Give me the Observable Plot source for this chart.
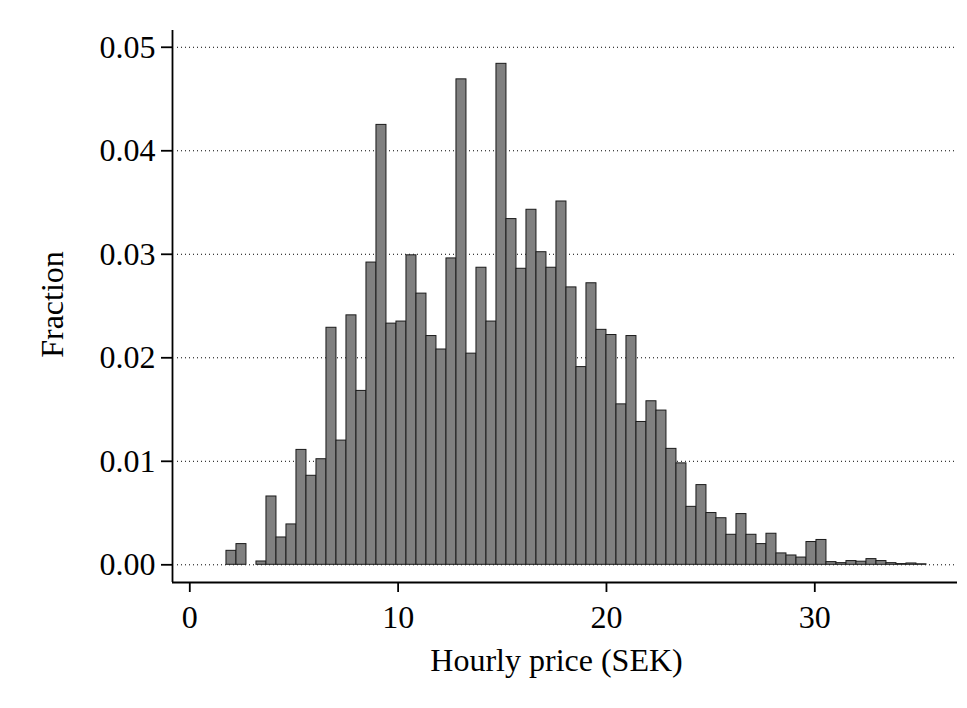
<!DOCTYPE html>
<html><head><meta charset="utf-8">
<script src="https://cdn.jsdelivr.net/npm/d3@7"></script>
<script src="https://cdn.jsdelivr.net/npm/@observablehq/plot@0.6"></script>
<style>body{margin:0;background:#fff}</style>
</head><body><div id="chart"></div>
<script>
// Histogram bins (lower edge of each bin, SEK) and fractions
const binLower = [1.76,2.24,2.72,3.20,3.68,4.16,4.64,5.12,5.60,6.08,
  6.56,7.04,7.52,8.00,8.48,8.96,9.44,9.92,10.40,10.88,
  11.36,11.84,12.32,12.80,13.28,13.76,14.24,14.72,15.20,15.68,
  16.16,16.64,17.12,17.60,18.08,18.56,19.04,19.52,20.00,20.48,
  20.96,21.44,21.92,22.40,22.88,23.36,23.84,24.32,24.80,25.28,
  25.76,26.24,26.72,27.20,27.68,28.16,28.64,29.12,29.60,30.08,
  30.56,31.04,31.52,32.00,32.48,32.96,33.44,33.92,34.40,34.88];
const binWidth = 0.48;
const fraction = [0.00135,0.0020,0,0.00032,0.0066,0.00264,0.0039,0.0111,0.0086,0.0102,
  0.0229,0.0120,0.0241,0.0168,0.0292,0.0425,0.0233,0.0235,0.0299,0.0262,
  0.0221,0.0208,0.0296,0.0469,0.0204,0.0287,0.0235,0.0484,0.0334,0.0286,
  0.0343,0.0302,0.0287,0.0351,0.0268,0.0191,0.0272,0.0227,0.0222,0.0155,
  0.0221,0.0138,0.0158,0.0149,0.0112,0.0098,0.0056,0.0077,0.0050,0.0045,
  0.0029,0.0049,0.0029,0.0020,0.0030,0.0011,0.0009,0.0007,0.0022,0.0024,
  0.00026,0.00016,0.00036,0.0003,0.00055,0.00036,0.00016,0.00007,0.00013,0.00005];
const xTicks = [0, 10, 20, 30];
const yTicks = [0, 0.01, 0.02, 0.03, 0.04, 0.05];
const xLabel = "Hourly price (SEK)";
const yLabel = "Fraction";
const xDomain = [-0.83, 36.85];
const yDomain = [-0.00171, 0.05162];

const data = binLower.map((x0, i) => ({x1: x0, x2: x0 + binWidth, f: fraction[i]}));
const font = "'Liberation Serif', 'Times New Roman', serif";

const chart = Plot.plot({
  width: 967, height: 708,
  marginLeft: 172, marginRight: 10, marginTop: 30, marginBottom: 126,
  style: {fontFamily: font, fontSize: "32px", background: "#fff", color: "#000"},
  x: {domain: xDomain, label: null},
  y: {domain: yDomain, label: null},
  marks: [
    Plot.gridY(yTicks, {insetLeft: 5, stroke: "#000", strokeOpacity: 1, strokeWidth: 1, strokeDasharray: "1,3"}),
    Plot.rectY(data.filter(d => d.f > 0), {x1: "x1", x2: "x2", y: "f", fill: "#808080", stroke: "#1a1a1a", strokeWidth: 1}),
    Plot.ruleX([xDomain[0]], {stroke: "#000", strokeWidth: 1.8}),
    Plot.ruleY([yDomain[0]], {stroke: "#000", strokeWidth: 1.8}),
    Plot.axisX(xTicks, {anchor: "bottom", tickSize: 10, tickPadding: 13, fontSize: 32, strokeWidth: 1.8, label: null, tickFormat: d => String(d)}),
    Plot.axisY(yTicks, {anchor: "left", tickSize: 11, tickPadding: 6, fontSize: 32, strokeWidth: 1.8, label: null, tickFormat: d3.format(".2f")}),
    Plot.text([xLabel], {text: d => d, frameAnchor: "bottom", textAnchor: "middle", lineAnchor: "bottom", dx: -8.5, dy: 88, fontSize: 32}),
    Plot.text([yLabel], {text: d => d, frameAnchor: "left", textAnchor: "middle", rotate: -90, lineAnchor: "bottom", dx: -110, dy: -2, fontSize: 32})
  ]
});
document.getElementById("chart").appendChild(chart);
</script>
</body></html>
